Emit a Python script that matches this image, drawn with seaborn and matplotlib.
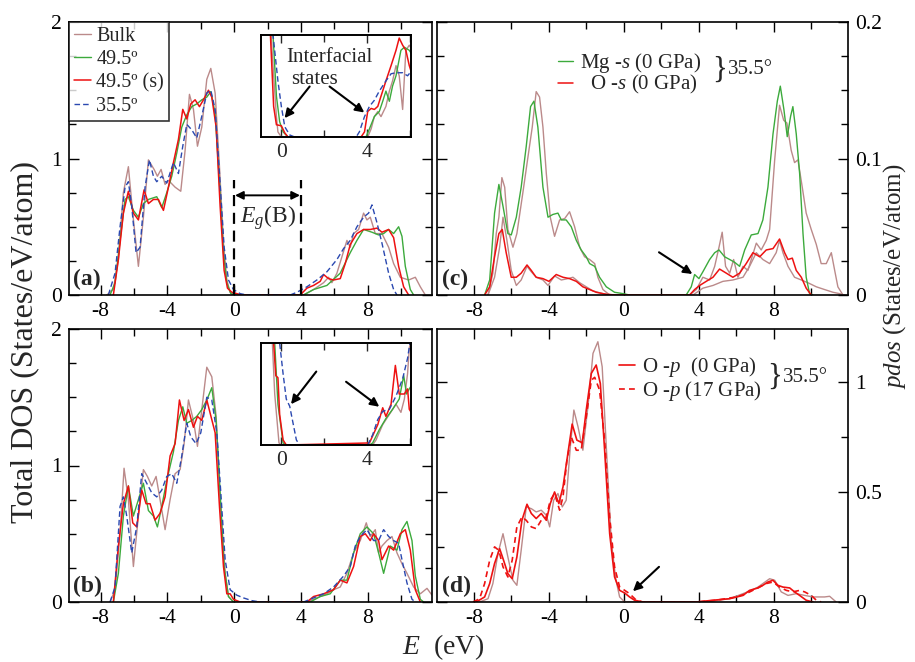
import matplotlib
matplotlib.use("Agg")
import matplotlib.pyplot as plt
from matplotlib.ticker import MultipleLocator, FuncFormatter
import seaborn as sns

# ---------------- data ----------------
# panel (a): total DOS, 0 GPa
a_bulk_E = [-7.64, -7.24, -6.94, -6.64, -6.34, -6.08, -5.74, -5.44, -5.14, -4.80, -4.60, -4.38, -4.14, -3.94, -3.54,
            -3.20, -2.94, -2.68, -2.44, -2.20, -1.94, -1.64, -1.40, -1.14, -0.88, -0.64, -0.44, -0.24, -0.04,
            4.16, 4.76, 5.36, 5.66, 5.86, 6.16, 6.46, 6.76, 6.96, 7.16, 7.46, 7.76, 7.96, 8.16, 8.46, 8.86, 9.26,
            9.56, 9.96, 10.46, 10.86, 11.16, 11.46]
a_bulk_v = [0, 0.04, 0.26, 0.75, 0.94, 0.60, 0.21, 0.57, 0.99, 0.92, 0.87, 0.92, 0.81, 0.84, 0.79,
            0.76, 1.06, 1.47, 1.36, 1.09, 1.23, 1.58, 1.66, 1.48, 0.94, 0.38, 0.11, 0.02, 0,
            0, 0.04, 0.09, 0.13, 0.09, 0.16, 0.28, 0.40, 0.35, 0.45, 0.48, 0.60, 0.55, 0.57, 0.45, 0.45, 0.35,
            0.23, 0.13, 0.11, 0.13, 0.06, 0]
a_g49_E = [-7.44, -7.14, -6.84, -6.54, -6.34, -6.04, -5.74, -5.44, -5.14, -4.64, -4.34, -4.04, -3.74, -3.44,
           -3.14, -2.84, -2.54, -2.24, -1.94, -1.64, -1.40, -1.14, -0.88, -0.64, -0.44, -0.20, 0.06,
           4.16, 4.76, 5.56, 6.36, 6.96, 7.36, 7.76, 8.26, 8.66, 8.96, 9.26, 9.56, 9.86, 10.06, 10.26, 10.56, 10.76]
a_g49_v = [0, 0.09, 0.40, 0.70, 0.72, 0.62, 0.57, 0.67, 0.70, 0.72, 0.64, 0.75, 0.87, 1.04,
           1.23, 1.32, 1.38, 1.40, 1.43, 1.45, 1.49, 1.33, 0.82, 0.31, 0.09, 0.01, 0,
           0, 0.04, 0.07, 0.16, 0.31, 0.40, 0.48, 0.46, 0.44, 0.45, 0.48, 0.45, 0.50, 0.43, 0.21, 0.04, 0]
a_s49_E = [-7.24, -6.94, -6.64, -6.34, -6.04, -5.74, -5.40, -5.14, -4.84, -4.54, -4.24, -3.94, -3.64, -3.34,
           -3.08, -2.84, -2.60, -2.34, -2.08, -1.84, -1.54, -1.34, -1.08, -0.84, -0.60, -0.40, -0.14, 0.16, 0.46,
           3.96, 4.36, 4.76, 5.16, 5.36, 5.66, 5.96, 6.36, 6.66, 6.96, 7.36, 7.76, 8.16, 8.56, 8.86, 9.26, 9.56,
           9.86, 10.16, 10.46]
a_s49_v = [0, 0.26, 0.60, 0.76, 0.60, 0.55, 0.77, 0.67, 0.70, 0.70, 0.62, 0.79, 0.97, 1.14,
           1.36, 1.29, 1.40, 1.43, 1.38, 1.43, 1.50, 1.45, 1.23, 0.65, 0.18, 0.05, 0.02, 0.01, 0,
           0, 0.05, 0.07, 0.10, 0.15, 0.12, 0.11, 0.12, 0.23, 0.37, 0.45, 0.48, 0.48, 0.49, 0.46, 0.48, 0.42,
           0.21, 0.06, 0]
a_b35_E = [-7.54, -7.14, -6.84, -6.54, -6.34, -6.14, -5.88, -5.64, -5.34, -5.08, -4.84, -4.64, -4.34, -4.04,
           -3.64, -3.34, -3.08, -2.84, -2.54, -2.24, -1.94, -1.64, -1.40, -1.14, -0.88, -0.60, -0.34, -0.04, 0.36,
           0.76,
           3.36, 3.76, 4.36, 4.96, 5.56, 6.16, 6.56, 6.96, 7.36, 7.76, 8.06, 8.26, 8.56, 8.86, 9.26, 9.56, 9.76]
a_b35_v = [0, 0.16, 0.50, 0.79, 0.83, 0.65, 0.31, 0.35, 0.79, 0.99, 0.87, 0.83, 0.87, 0.82,
           0.97, 0.89, 1.09, 1.25, 1.21, 1.15, 1.31, 1.48, 1.50, 1.36, 0.89, 0.35, 0.11, 0.04, 0.01,
           0,
           0, 0.02, 0.06, 0.11, 0.17, 0.26, 0.34, 0.40, 0.50, 0.57, 0.60, 0.66, 0.53, 0.38, 0.16, 0.04, 0]

# inset of (a): band-gap region at finer resolution
ia_bulk_E = [-0.62, -0.39, -0.31, -0.23, -0.16, 0, 4.03, 4.19, 4.34, 4.50, 4.65, 4.88, 5.04, 5.19, 5.35, 5.50,
             5.66, 5.81, 5.97, 6.12]
ia_bulk_v = [0.30, 0.14, 0.09, 0.04, 0.01, 0, 0, 0.016, 0.04, 0.05, 0.04, 0.06, 0.09, 0.11, 0.14, 0.12,
             0.054, 0.17, 0.18, 0.17]
ia_g49_E = [-0.50, -0.39, -0.23, -0.08, 0.08, 0.31, 3.95, 4.11, 4.34, 4.57, 4.73, 4.88, 5.04, 5.19, 5.35, 5.58,
            5.74, 5.97, 6.12]
ia_g49_v = [0.30, 0.20, 0.08, 0.03, 0.01, 0, 0, 0.016, 0.04, 0.05, 0.07, 0.09, 0.07, 0.10, 0.12, 0.17,
            0.176, 0.17, 0.16]
ia_s49_E = [-0.60, -0.51, -0.36, -0.23, 0, 0.16, 0.31, 3.72, 3.88, 4.03, 4.19, 4.34, 4.50, 4.65, 4.88, 5.12,
            5.35, 5.50, 5.66, 5.81, 5.97, 6.12]
ia_s49_v = [0.30, 0.20, 0.06, 0.024, 0.022, 0.008, 0, 0, 0.01, 0.05, 0.056, 0.054, 0.06, 0.08, 0.11, 0.14,
            0.17, 0.194, 0.18, 0.17, 0.14, 0.12]
ia_b35_E = [-0.55, -0.39, -0.16, 0, 0.16, 0.39, 0.62, 3.49, 3.64, 3.88, 4.11, 4.34, 4.57, 4.88, 5.12, 5.35,
            5.66, 5.89, 6.12]
ia_b35_v = [0.30, 0.20, 0.11, 0.06, 0.02, 0.004, 0, 0, 0.01, 0.04, 0.06, 0.072, 0.09, 0.11, 0.124, 0.126,
            0.126, 0.12, 0.132]

# panel (b): total DOS, 17 GPa
b_bulk_E = [-7.44, -7.14, -6.84, -6.60, -6.34, -6.04, -5.74, -5.44, -5.20, -4.94, -4.68, -4.44, -4.14, -3.84,
            -3.54, -3.24, -3.00, -2.74, -2.44, -2.20, -1.94, -1.64, -1.34, -1.08, -0.84, -0.54, -0.34, -0.04,
            4.36, 4.96, 5.56, 5.96, 6.36, 6.76, 7.16, 7.56, 7.92, 8.16, 8.46, 8.66, 8.86, 9.16, 9.46, 9.76, 10.06,
            10.36, 10.76, 11.16, 11.56, 11.86]
b_bulk_v = [0, 0.09, 0.50, 0.98, 0.75, 0.26, 0.63, 0.97, 0.92, 0.85, 0.92, 0.75, 0.53, 0.75,
            0.94, 0.97, 1.16, 1.48, 1.33, 1.14, 1.41, 1.72, 1.65, 1.36, 0.75, 0.21, 0.04, 0,
            0, 0.03, 0.06, 0.09, 0.11, 0.21, 0.36, 0.45, 0.58, 0.48, 0.53, 0.36, 0.41, 0.45, 0.48, 0.36, 0.28,
            0.21, 0.11, 0.06, 0.10, 0.05]
b_g49_E = [-7.24, -6.94, -6.64, -6.34, -6.04, -5.74, -5.44, -5.14, -4.84, -4.60, -4.34, -4.04, -3.64, -3.34,
           -3.08, -2.84, -2.54, -2.24, -1.94, -1.64, -1.34, -1.08, -0.84, -0.60, -0.34, -0.04,
           4.56, 5.16, 5.76, 6.36, 6.76, 7.16, 7.56, 7.96, 8.36, 8.66, 8.96, 9.36, 9.76, 10.06, 10.36, 10.66,
           10.86, 11.16, 11.36]
b_g49_v = [0, 0.21, 0.63, 0.85, 0.63, 0.75, 0.87, 0.67, 0.63, 0.55, 0.70, 0.89, 1.10, 1.33,
           1.43, 1.31, 1.33, 1.36, 1.41, 1.48, 1.57, 1.33, 0.80, 0.26, 0.04, 0,
           0, 0.04, 0.06, 0.16, 0.16, 0.36, 0.50, 0.55, 0.50, 0.36, 0.21, 0.41, 0.38, 0.53, 0.59, 0.45,
           0.19, 0.02, 0]
b_s49_E = [-7.24, -6.94, -6.64, -6.34, -6.08, -5.84, -5.54, -5.28, -5.04, -4.74, -4.44, -4.14, -3.84, -3.54,
           -3.28, -3.00, -2.74, -2.44, -2.20, -1.94, -1.64, -1.14, -0.88, -0.64, -0.44, -0.24, -0.04, 0.36,
           4.36, 4.76, 5.36, 5.96, 6.36, 6.76, 7.16, 7.56, 7.86, 8.16, 8.36, 8.66, 8.86, 9.26, 9.56, 9.96, 10.26,
           10.56, 10.86, 11.16]
b_s49_v = [0, 0.41, 0.72, 0.85, 0.58, 0.55, 0.82, 0.72, 0.72, 0.60, 0.65, 0.77, 1.07, 1.16,
           1.48, 1.33, 1.41, 1.28, 1.36, 1.33, 1.48, 1.24, 0.70, 0.26, 0.06, 0.06, 0.02, 0,
           0, 0.04, 0.06, 0.09, 0.16, 0.14, 0.26, 0.48, 0.50, 0.45, 0.50, 0.45, 0.31, 0.41, 0.38, 0.50, 0.53,
           0.38, 0.09, 0]
b_b35_E = [-7.44, -7.14, -6.84, -6.64, -6.44, -6.14, -5.84, -5.54, -5.24, -4.94, -4.64, -4.34, -4.04, -3.74,
           -3.44, -3.14, -2.84, -2.60, -2.28, -2.00, -1.64, -1.34, -1.04, -0.80, -0.54, -0.24, 0.16, 0.56, 1.06,
           1.56,
           4.16, 4.76, 5.36, 5.96, 6.56, 6.96, 7.26, 7.56, 7.96, 8.36, 8.66, 8.96, 9.26, 9.56, 9.86, 10.06,
           10.36, 10.66, 10.86]
b_b35_v = [0, 0.11, 0.70, 0.77, 0.63, 0.36, 0.55, 0.94, 0.87, 0.80, 0.77, 0.82, 0.92, 0.94,
           0.87, 1.07, 1.31, 1.21, 1.16, 1.24, 1.50, 1.48, 1.24, 0.80, 0.31, 0.09, 0.05, 0.03, 0.01,
           0,
           0, 0.03, 0.06, 0.11, 0.19, 0.26, 0.41, 0.48, 0.53, 0.45, 0.45, 0.53, 0.48, 0.45, 0.43, 0.31,
           0.14, 0.02, 0]

# inset of (b)
ib_bulk_E = [-0.55, -0.42, -0.31, -0.11, 0, 4.26, 4.42, 4.73, 5.04, 5.35, 5.58, 5.74, 5.89, 5.97, 6.12]
ib_bulk_v = [0.30, 0.20, 0.10, 0.004, 0, 0, 0.01, 0.04, 0.06, 0.08, 0.064, 0.09, 0.14, 0.19, 0.22]
ib_g49_E = [-0.45, -0.31, -0.16, 0.08, 0.23, 4.11, 4.26, 4.57, 4.88, 5.19, 5.50, 5.71, 5.84, 5.97, 6.12]
ib_g49_v = [0.30, 0.20, 0.08, 0.004, 0, 0, 0.004, 0.03, 0.052, 0.07, 0.09, 0.136, 0.10, 0.11, 0.12]
ib_s49_E = [-0.45, -0.36, -0.26, -0.16, -0.08, 0.08, 0.23, 4.11, 4.50, 4.73, 4.88, 5.12, 5.32, 5.50, 5.74,
            5.89, 5.97, 6.12]
ib_s49_v = [0.30, 0.20, 0.136, 0.132, 0.06, 0.01, 0, 0.004, 0.04, 0.073, 0.056, 0.08, 0.156, 0.10, 0.10,
            0.11, 0.07, 0.06]
ib_b35_E = [-0.20, -0.08, 0.08, 0.23, 0.39, 0.54, 0.70, 0.85, 4.03, 4.26, 4.50, 4.73, 5.04, 5.35, 5.66, 5.89,
            6.0, 6.12]
ib_b35_v = [0.30, 0.20, 0.14, 0.09, 0.076, 0.044, 0.01, 0, 0, 0.02, 0.05, 0.066, 0.07, 0.096, 0.13, 0.17,
            0.20, 0.24]

# panel (c): s-projected DOS (35.5 deg, 0 GPa) with bulk reference
c_mg_E = [-7.43, -7.16, -6.90, -6.67, -6.45, -6.19, -6.01, -5.74, -5.48, -5.21, -4.98, -4.80, -4.59, -4.32,
          -4.05, -3.79, -3.52, -3.34, -3.08, -2.81, -2.54, -2.28, -2.01, -1.83, -1.56, -1.30, -0.94, -0.50,
          -0.05, 0.30,
          3.32, 3.59, 3.77, 4.00, 4.21, 4.57, 4.84, 5.07, 5.37, 5.64, 5.90, 6.17, 6.44, 6.79, 7.15, 7.41, 7.68,
          7.95, 8.18, 8.34, 8.53, 8.71, 8.89, 9.01, 9.19, 9.37, 9.55, 9.72, 9.90, 10.08]
c_mg_v = [0, 0.011, 0.060, 0.081, 0.065, 0.045, 0.044, 0.057, 0.079, 0.109, 0.138, 0.142, 0.123, 0.079,
          0.057, 0.059, 0.060, 0.055, 0.055, 0.050, 0.040, 0.033, 0.028, 0.023, 0.021, 0.013, 0.006, 0.002,
          0.001, 0,
          0, 0.006, 0.015, 0.012, 0.017, 0.026, 0.031, 0.033, 0.028, 0.026, 0.024, 0.021, 0.033, 0.044, 0.045,
          0.055, 0.079, 0.118, 0.142, 0.153, 0.136, 0.116, 0.131, 0.138, 0.118, 0.089, 0.045, 0.013, 0.001, 0]
c_mg_bulk_E = [-7.25, -6.99, -6.81, -6.67, -6.51, -6.36, -6.19, -5.92, -5.71, -5.39, -5.12, -4.89, -4.68,
               -4.50, -4.32, -4.14, -3.93, -3.70, -3.43, -3.16, -2.90, -2.63, -2.36, -2.10, -1.83, -1.56,
               -1.39, -1.12, -0.76,
               3.50, 3.86, 4.21, 4.57, 4.84, 5.07, 5.24, 5.42, 5.64, 5.85, 6.08, 6.35, 6.61, 6.79, 7.06, 7.32,
               7.59, 7.77, 8.04, 8.30, 8.52, 8.69, 8.92, 9.10, 9.28, 9.51, 9.72, 9.99, 10.26, 10.52, 10.79,
               11.06, 11.24, 11.41, 11.68]
c_mg_bulk_v = [0, 0.016, 0.045, 0.057, 0.086, 0.079, 0.048, 0.035, 0.045, 0.075, 0.101, 0.123, 0.149,
               0.145, 0.123, 0.089, 0.057, 0.043, 0.055, 0.056, 0.061, 0.050, 0.035, 0.028, 0.026, 0.023,
               0.013, 0.004, 0,
               0, 0.004, 0.013, 0.011, 0.021, 0.035, 0.046, 0.021, 0.016, 0.026, 0.013, 0.021, 0.018, 0.026,
               0.038, 0.033, 0.040, 0.048, 0.099, 0.139, 0.128, 0.126, 0.106, 0.097, 0.099, 0.079, 0.060,
               0.048, 0.037, 0.023, 0.023, 0.031, 0.018, 0.006, 0]
c_o_E = [-7.43, -7.16, -6.90, -6.67, -6.49, -6.28, -6.01, -5.74, -5.48, -5.17, -4.94, -4.68, -4.32, -4.00,
         -3.61, -3.25, -2.90, -2.54, -2.19, -1.83, -1.48, -0.94, -0.41,
         3.50, 3.77, 4.04, 4.39, 4.75, 5.10, 5.46, 5.81, 6.17, 6.52, 6.88, 7.24, 7.59, 7.95, 8.30, 8.57, 8.75,
         8.98, 9.19, 9.46, 9.72, 9.99]
c_o_v = [0, 0.006, 0.028, 0.045, 0.048, 0.031, 0.013, 0.013, 0.016, 0.022, 0.018, 0.013, 0.012, 0.010,
         0.015, 0.013, 0.012, 0.010, 0.006, 0.004, 0.002, 0.0005, 0,
         0, 0.004, 0.007, 0.010, 0.013, 0.019, 0.016, 0.013, 0.016, 0.023, 0.031, 0.028, 0.033, 0.034, 0.041,
         0.031, 0.026, 0.027, 0.018, 0.013, 0.005, 0]
c_o_bulk_E = [-7.25, -6.90, -6.63, -6.45, -6.24, -6.01, -5.74, -5.48, -5.17, -4.94, -4.68, -4.32, -4.05,
              -3.70, -3.34, -2.99, -2.72, -2.36, -2.01, -1.65, -1.12, -0.59,
              3.68, 4.21, 4.75, 5.28, 5.81, 6.35, 6.70, 7.06, 7.41, 7.77, 8.12, 8.30, 8.48, 8.75, 9.10, 9.46,
              9.81, 10.26, 10.70, 11.15, 11.50, 11.77]
c_o_bulk_v = [0, 0.013, 0.035, 0.057, 0.040, 0.018, 0.007, 0.011, 0.021, 0.017, 0.013, 0.011, 0.007,
              0.014, 0.011, 0.012, 0.013, 0.009, 0.006, 0.003, 0.001, 0,
              0, 0.005, 0.007, 0.010, 0.011, 0.013, 0.021, 0.031, 0.026, 0.023, 0.031, 0.040, 0.031, 0.021,
              0.013, 0.011, 0.009, 0.006, 0.004, 0.002, 0.001, 0]

# panel (d): O p-projected DOS (35.5 deg) at 0 and 17 GPa with bulk reference
d_p0_E = [-7.88, -7.43, -7.16, -6.90, -6.63, -6.42, -6.19, -5.96, -5.71, -5.44, -5.17, -4.94, -4.68, -4.41,
          -4.14, -3.93, -3.70, -3.47, -3.25, -2.99, -2.76, -2.51, -2.22, -2.01, -1.74, -1.48, -1.26, -1.03,
          -0.76, -0.50, -0.23, 0.04, 0.30, 0.57, 1.01,
          3.86, 4.75, 5.64, 6.35, 6.70, 7.15, 7.41, 7.68, 7.95, 8.21, 8.48, 8.84, 9.10, 9.37, 9.72, 10.08]
d_p0_v = [0, 0.023, 0.084, 0.175, 0.243, 0.19, 0.129, 0.106, 0.205, 0.372, 0.445, 0.403, 0.380, 0.403,
          0.372, 0.448, 0.501, 0.448, 0.524, 0.676, 0.810, 0.737, 0.725, 0.874, 1.041, 1.079, 0.995, 0.691,
          0.311, 0.114, 0.053, 0.041, 0.023, 0.008, 0,
          0, 0.008, 0.015, 0.03, 0.053, 0.064, 0.076, 0.091, 0.099, 0.076, 0.068, 0.064, 0.046, 0.03, 0.008, 0]
d_p17_E = [-8.05, -7.70, -7.43, -7.16, -6.90, -6.67, -6.45, -6.19, -5.96, -5.71, -5.44, -5.21, -4.94, -4.68,
           -4.41, -4.14, -3.93, -3.70, -3.43, -3.25, -3.04, -2.81, -2.54, -2.28, -2.01, -1.74, -1.56, -1.30,
           -1.03, -0.76, -0.50, -0.23, 0.04, 0.30, 0.66, 1.01,
           3.86, 4.92, 5.99, 6.52, 7.06, 7.59, 7.95, 8.30, 8.66, 9.01, 9.37, 9.64, 9.99, 10.26, 10.52]
d_p17_v = [0, 0.015, 0.084, 0.19, 0.251, 0.235, 0.160, 0.114, 0.19, 0.342, 0.387, 0.372, 0.342, 0.334,
           0.372, 0.387, 0.463, 0.494, 0.418, 0.479, 0.646, 0.752, 0.691, 0.691, 0.843, 1.01, 1.023, 0.965,
           0.737, 0.387, 0.16, 0.068, 0.053, 0.038, 0.008, 0,
           0, 0.008, 0.023, 0.038, 0.061, 0.084, 0.091, 0.068, 0.053, 0.046, 0.053, 0.046, 0.03, 0.008, 0]
d_bulk_E = [-7.70, -7.25, -6.99, -6.72, -6.45, -6.19, -5.92, -5.71, -5.48, -5.21, -4.94, -4.68, -4.41,
            -4.14, -3.96, -3.75, -3.52, -3.29, -3.08, -2.86, -2.67, -2.45, -2.19, -1.92, -1.65, -1.39, -1.16,
            -0.94, -0.68, -0.44, -0.23, 0.04,
            3.86, 4.75, 5.64, 6.35, 6.79, 7.15, 7.41, 7.77, 8.04, 8.39, 8.75, 9.19, 9.64, 10.08, 10.70, 10.97,
            11.32]
d_bulk_v = [0, 0.015, 0.084, 0.22, 0.311, 0.205, 0.099, 0.076, 0.236, 0.433, 0.425, 0.41, 0.418,
            0.395, 0.342, 0.463, 0.494, 0.433, 0.463, 0.706, 0.874, 0.798, 0.691, 0.889, 1.132, 1.185, 1.071,
            0.706, 0.281, 0.106, 0.023, 0,
            0, 0.005, 0.015, 0.038, 0.053, 0.068, 0.084, 0.106, 0.099, 0.046, 0.03, 0.038, 0.03, 0.023, 0.023,
            0.026, 0]

labels_tot = ["Bulk", "49.5º", "49.5º (s)", "35.5º"]
gap_edges = [0, 4]

# ---------------- style ----------------
sns.set_style("ticks")
plt.rcParams['font.family'] = ['Liberation Serif', 'DejaVu Serif']
plt.rcParams['mathtext.fontset'] = 'custom'
plt.rcParams['mathtext.rm'] = 'Liberation Serif'
plt.rcParams['mathtext.it'] = 'Liberation Serif:italic'
plt.rcParams['axes.unicode_minus'] = False

BROWN = '#bb8a8a'
GREEN = '#3caa3c'
RED = '#ee1111'
BLUE = '#2a48b0'
DASH = (0, (4, 2.2))

W, H = 915, 662
fig = plt.figure(figsize=(W / 100, H / 100), dpi=100)


def box(l, t, r, b):
    return [l / W, 1 - b / H, (r - l) / W, (b - t) / H]


def fx(x):
    return x / W


def fy(y):
    return 1 - y / H


def line(ax, E, v, **kw):
    sns.lineplot(x=E, y=v, ax=ax, estimator=None, sort=False, **kw)


def style(ax, xlim, ylim, ymaj, ymin, right=False):
    ax.set_xlim(*xlim)
    ax.set_ylim(*ylim)
    ax.xaxis.set_major_locator(MultipleLocator(4))
    ax.xaxis.set_minor_locator(MultipleLocator(2))
    ax.yaxis.set_major_locator(MultipleLocator(ymaj))
    ax.yaxis.set_minor_locator(MultipleLocator(ymin))
    ax.yaxis.set_major_formatter(FuncFormatter(lambda v, p: '%g' % round(v, 3)))
    ax.tick_params(which='both', direction='in', top=True, right=True, width=1.0,
                   labelsize=15.5, colors='black', pad=5)
    ax.tick_params(which='major', length=7.5)
    ax.tick_params(which='minor', length=5)
    if right:
        ax.tick_params(labelleft=False, labelright=True)
    for s in ax.spines.values():
        s.set_linewidth(1.2)
        s.set_color('black')
    ax.set_xlabel('')
    ax.set_ylabel('')


def total_dos(ax, bulk, g49, s49, b35, lab=False):
    l = labels_tot if lab else [None] * 4
    line(ax, bulk[0], bulk[1], color=BROWN, lw=1.0, label=l[0])
    line(ax, g49[0], g49[1], color=GREEN, lw=1.0, label=l[1])
    line(ax, s49[0], s49[1], color=RED, lw=1.1, label=l[2])
    line(ax, b35[0], b35[1], color=BLUE, lw=1.0, linestyle=DASH, label=l[3])


def inset(rect, curves):
    ai = fig.add_axes(rect)
    total_dos(ai, *curves)
    ai.set_xlim(-0.95, 6.05)
    ai.set_ylim(0, 0.2)
    ai.xaxis.set_major_locator(MultipleLocator(4))
    ai.xaxis.set_minor_locator(MultipleLocator(2))
    ai.set_yticks([])
    ai.tick_params(which='both', direction='in', top=True, width=1.0, labelsize=15.5, pad=4)
    ai.tick_params(which='major', length=6)
    ai.tick_params(which='minor', length=5)
    for s in ai.spines.values():
        s.set_linewidth(1.4)
        s.set_color('black')
    ai.set_xlabel('')
    ai.set_ylabel('')
    return ai


arrow = dict(arrowstyle='-|>', color='black', lw=1.5, mutation_scale=13, shrinkA=0, shrinkB=0)

# ---------------- panel (a) ----------------
ax_a = fig.add_axes(box(69, 22, 432, 295))
curves_a = [(a_bulk_E, a_bulk_v), (a_g49_E, a_g49_v), (a_s49_E, a_s49_v), (a_b35_E, a_b35_v)]
total_dos(ax_a, *curves_a, lab=True)
style(ax_a, (-9.9, 11.86), (0, 2), 1, 0.25)
leg = ax_a.legend(loc='upper left', bbox_to_anchor=(0, 1), borderaxespad=0, frameon=True,
                  fancybox=False, edgecolor='black', handlelength=0.85, handletextpad=0.25,
                  labelspacing=0.2, borderpad=0.25, fontsize=14.5)
leg.get_frame().set_linewidth(1.2)
ax_a.vlines(gap_edges, 0, 0.84, colors='black', linestyles=(0, (5, 3)), lw=1.6)
ax_a.annotate('', xy=(gap_edges[0] + 0.05, 0.73), xytext=(gap_edges[1] - 0.05, 0.73),
              arrowprops=dict(arrowstyle='<|-|>', color='black', lw=1.4, mutation_scale=12,
                              shrinkA=0, shrinkB=0))
ax_a.text(2, 0.57, '$E_g$(B)', ha='center', va='center', fontsize=17)
ax_a.text(0.012, 0.02, '(a)', transform=ax_a.transAxes, fontsize=17, fontweight='bold', va='bottom')

ia = inset(box(261, 35, 411, 137), [(ia_bulk_E, ia_bulk_v), (ia_g49_E, ia_g49_v),
                                    (ia_s49_E, ia_s49_v), (ia_b35_E, ia_b35_v)])
fig.text(fx(329), fy(57), 'Interfacial', ha='center', va='center', fontsize=15)
fig.text(fx(314), fy(80), 'states', ha='center', va='center', fontsize=15)
ia.annotate('', xy=(0.15, 0.037), xytext=(1.32, 0.099), arrowprops=arrow, annotation_clip=False)
ia.annotate('', xy=(3.87, 0.048), xytext=(2.25, 0.099), arrowprops=arrow, annotation_clip=False)

# ---------------- panel (b) ----------------
ax_b = fig.add_axes(box(69, 329, 432, 602))
curves_b = [(b_bulk_E, b_bulk_v), (b_g49_E, b_g49_v), (b_s49_E, b_s49_v), (b_b35_E, b_b35_v)]
total_dos(ax_b, *curves_b)
style(ax_b, (-9.9, 11.86), (0, 2), 1, 0.25)
ax_b.text(0.012, 0.02, '(b)', transform=ax_b.transAxes, fontsize=17, fontweight='bold', va='bottom')

ib = inset(box(261, 343, 411, 445), [(ib_bulk_E, ib_bulk_v), (ib_g49_E, ib_g49_v),
                                     (ib_s49_E, ib_s49_v), (ib_b35_E, ib_b35_v)])
ib.annotate('', xy=(0.45, 0.08), xytext=(1.63, 0.144), arrowprops=arrow, annotation_clip=False)
ib.annotate('', xy=(4.57, 0.075), xytext=(3.02, 0.124), arrowprops=arrow, annotation_clip=False)

# ---------------- panel (c) ----------------
ax_c = fig.add_axes(box(437, 22, 848, 295))
line(ax_c, c_mg_bulk_E, c_mg_bulk_v, color=BROWN, lw=1.0)
line(ax_c, c_o_bulk_E, c_o_bulk_v, color=BROWN, lw=1.0)
line(ax_c, c_mg_E, c_mg_v, color=GREEN, lw=1.0, label='Mg -$s$ (0 GPa)')
line(ax_c, c_o_E, c_o_v, color=RED, lw=1.1, label='  O -$s$ (0 GPa)')
style(ax_c, (-9.97, 11.95), (0, 0.2), 0.1, 0.025, right=True)
ax_c.legend(loc='upper left', bbox_to_anchor=((558 - 437) / 411, (295 - 51) / 273), borderaxespad=0,
            frameon=False, handlelength=0.7, handletextpad=0.35, labelspacing=-0.08, borderpad=0,
            fontsize=15)
fig.text(fx(727), fy(70), '}', ha='right', va='center', fontsize=22)
fig.text(fx(728), fy(70), '35.5°', ha='left', va='center', fontsize=15)
ax_c.annotate('', xy=(3.65, 0.0154), xytext=(1.87, 0.0313), arrowprops=arrow)
ax_c.text(0.012, 0.02, '(c)', transform=ax_c.transAxes, fontsize=17, fontweight='bold', va='bottom')

# ---------------- panel (d) ----------------
ax_d = fig.add_axes(box(437, 329, 848, 602))
line(ax_d, d_bulk_E, d_bulk_v, color=BROWN, lw=1.0)
line(ax_d, d_p0_E, d_p0_v, color=RED, lw=1.2, label='O -$p$  (0 GPa)')
line(ax_d, d_p17_E, d_p17_v, color=RED, lw=1.2, linestyle=(0, (3.5, 2.5)), label='O -$p$ (17 GPa)')
style(ax_d, (-9.97, 11.95), (0, 1.243), 0.5, 0.25, right=True)
ax_d.legend(loc='upper left', bbox_to_anchor=((619 - 437) / 411, (601.7 - 355) / 219.4 / 1.243),
            borderaxespad=0, frameon=False, handlelength=0.75, handletextpad=0.35, labelspacing=0.0,
            borderpad=0, fontsize=15)
fig.text(fx(782), fy(377), '}', ha='right', va='center', fontsize=22)
fig.text(fx(783), fy(377), '35.5°', ha='left', va='center', fontsize=15)
ax_d.annotate('', xy=(0.48, 0.049), xytext=(1.87, 0.16), arrowprops=arrow)
ax_d.text(0.012, 0.02, '(d)', transform=ax_d.transAxes, fontsize=17, fontweight='bold', va='bottom')

# ---------------- axis titles ----------------
fig.text(fx(25), fy(342), 'Total DOS (States/eV/atom)', rotation=90, ha='center', va='center', fontsize=23)
fig.text(fx(895), fy(276), '$pdos$ (States/eV/atom)', rotation=90, ha='center', va='center', fontsize=18)
fig.text(fx(443), fy(647), '$E$  (eV)', ha='center', va='center', fontsize=20)

fig.savefig('out.png', dpi=100)
